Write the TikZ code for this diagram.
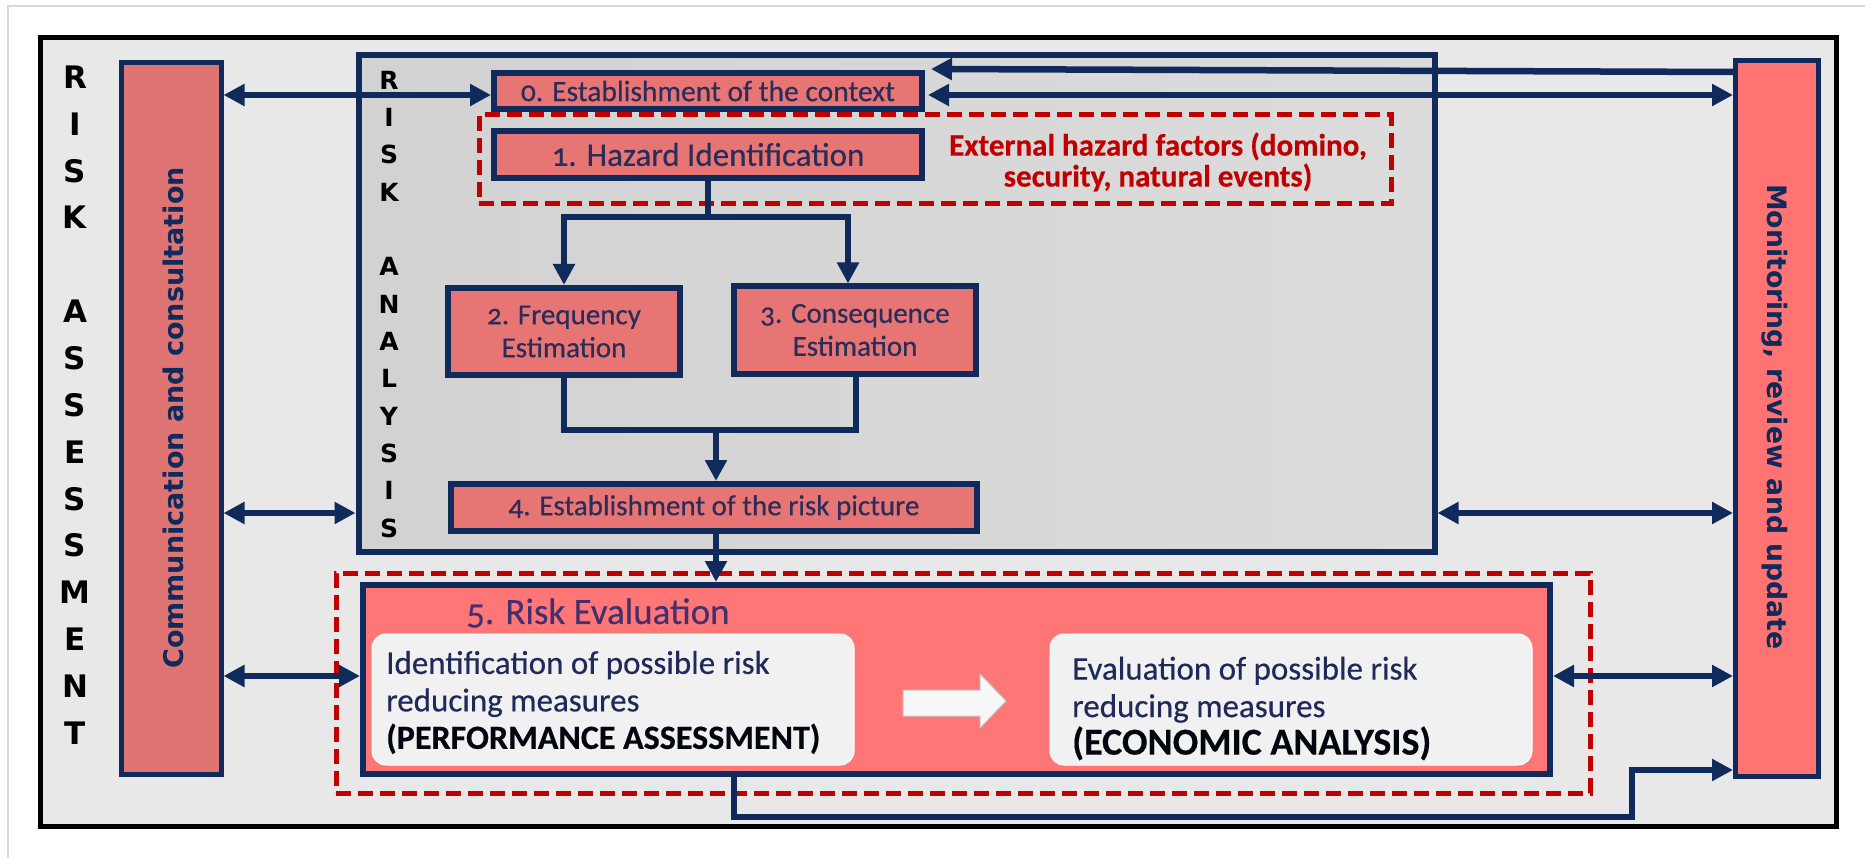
\documentclass[tikz,border=0pt]{standalone}
\usepackage{fontspec}
\setmainfont{Carlito}[Numbers=OldStyle, FakeBold=0.4]
\newfontfamily\dejavu{DejaVu Sans}
\usetikzlibrary{arrows.meta,calc}

\definecolor{navy}{HTML}{102A5C}
\definecolor{boxtext}{HTML}{2A2C5A}
\definecolor{boxfill}{HTML}{E67574}
\definecolor{commfill}{HTML}{DF7472}
\definecolor{monfill}{HTML}{FF7373}
\definecolor{refill}{HTML}{FF7676}
\definecolor{bg}{HTML}{E8E8E8}
\definecolor{raleft}{HTML}{D2D2D2}
\definecolor{raright}{HTML}{DCDCDC}
\definecolor{hazred}{HTML}{C00000}
\definecolor{evaltext}{HTML}{44306E}
\definecolor{wfill}{HTML}{F1F1F1}
\definecolor{wtextc}{HTML}{1F2A5A}
\definecolor{pageline}{HTML}{DADADA}

\newcommand\setfs[2]{\fontsize{#1}{#2}\selectfont}

\begin{document}
\begin{tikzpicture}[x=1pt,y=-1pt,
  box/.style={draw=navy, line width=6pt, fill=boxfill, inner sep=0pt,
    text=boxtext, align=center},
  sidebox/.style={draw=navy, line width=5pt, inner sep=0pt},
  reddash/.style={draw=hazred, line width=5pt, dash pattern=on 15pt off 7pt,
    inner sep=0pt},
  wbox/.style={fill=wfill, draw=white, line width=1pt, rounded corners=14pt,
    inner sep=0pt},
  wtext/.style={inner sep=0pt, align=left, text=wtextc, anchor=west,
    font=\setfs{33}{37.5}},
  asletter/.style={inner sep=0pt, font=\dejavu\bfseries\setfs{31}{31}},
  raletter/.style={inner sep=0pt, font=\dejavu\bfseries\setfs{25}{25}},
  arr/.style={draw=navy, line width=6.5pt},
  tip/.tip={Triangle[length=21pt,width=21pt]}]

\useasboundingbox (0,0) rectangle (1865,858);
\fill[white] (0,0) rectangle (1865,858);
\draw[pageline, line width=2pt] (8,858) -- (8,6) -- (1865,6);

% outer frame
\draw[line width=5pt, fill=bg] (40,38) rectangle (1836,826);

% side columns
\node[sidebox, fill=commfill, minimum width=99.5pt, minimum height=711.5pt]
  (comm) at (171.25,418.75) {};
\node[sidebox, fill=monfill, minimum width=83pt, minimum height=716pt]
  (mon) at (1777,418.5) {};
\node[rotate=90, inner sep=0pt, text=navy, font=\dejavu\bfseries\setfs{27}{27}]
  (commtext) at (173,418) {Communication and consultation};
\node[rotate=-90, inner sep=0pt, text=navy, font=\dejavu\bfseries\setfs{26.7}{27}]
  (montext) at (1775,417) {Monitoring, review and update};

% vertical titles
\foreach \ch/\k in {R/0,I/1,S/2,K/3,A/5,S/6,S/7,E/8,S/9,S/10,M/11,E/12,N/13,T/14}
  \node[asletter] (as-\k) at (75,77+46.86*\k) {\ch};

% risk analysis frame
\node[draw=navy, line width=6pt, left color=raleft, right color=raright,
  minimum width=1076pt, minimum height=496.5pt, inner sep=0pt]
  (ra) at (896.5,303.25) {};
\foreach \ch/\k in {R/0,I/1,S/2,K/3,A/5,N/6,A/7,L/8,Y/9,S/10,I/11,S/12}
  \node[raletter] (ra-\k) at (389,80+37.35*\k) {\ch};

% external factors
\node[reddash, minimum width=912pt, minimum height=89pt] (ext) at (935,159.5) {};
\node[inner sep=0pt, align=center, text=hazred, font=\bfseries\setfs{31}{31}]
  (extlabel) at (1158,162) {External hazard factors (domino,\\security, natural events)};

% analysis steps
\node[box, minimum width=428pt, minimum height=36pt, font=\setfs{29.5}{32}]
  (ctx) at (708,91) {0. Establishment of the context};
\node[box, minimum width=428pt, minimum height=47pt, font=\setfs{33}{36}]
  (haz) at (708,154.5) {1. Hazard Identification};
\node[box, minimum width=232pt, minimum height=87pt, font=\setfs{29}{33}]
  (freq) at (564,331.5) {2. Frequency\\Estimation};
\node[box, minimum width=242pt, minimum height=87pt, font=\setfs{29}{33}]
  (cons) at (855,330) {3. Consequence\\Estimation};
\node[box, minimum width=526pt, minimum height=47pt, font=\setfs{29}{33}]
  (pic) at (714,507.5) {4. Establishment of the risk picture};

% risk evaluation
\node[reddash, minimum width=1254pt, minimum height=220pt] (reframe) at (963,683) {};
\node[box, fill=refill, minimum width=1187pt, minimum height=189pt]
  (re) at (956.5,679.5) {};
\node[inner sep=0pt, anchor=west, text=evaltext, font=\setfs{37}{40}]
  (retitle) at (466,613) {5. Risk Evaluation};
\node[wbox, minimum width=482pt, minimum height=131pt] (idbox) at (613,699.5) {};
\node[wbox, minimum width=482pt, minimum height=131pt] (evbox) at (1291,699.5) {};
\node[wtext] (idtext) at (386,702.5)
  {Identification of possible risk\\reducing measures\\{\setfs{34}{37.5}\bfseries\color{black!85!navy}(PERFORMANCE ASSESSMENT)}};
\node[wtext] (evtext) at (1072,708.5)
  {Evaluation of possible risk\\reducing measures\\{\setfs{38}{37.5}\bfseries\color{black!85!navy}(ECONOMIC ANALYSIS)}};
\filldraw[fill=white!97!black, draw=black!22, line width=1pt]
  (903,690) -- (980,690) -- (980,674) -- (1006,701) -- (980,728)
  -- (980,716) -- (903,716) -- cycle;

% levels of the connectors
\coordinate (ytop) at (0,72);
\coordinate (yctx) at (0,95);
\coordinate (ysplit) at (0,217);
\coordinate (yjoin) at (0,430);
\coordinate (ymid) at (0,513);
\coordinate (yeval) at (0,676);
\coordinate (yfb) at (0,770);
\coordinate (ybot) at (0,817);
\coordinate (xre) at (734,0);
\coordinate (xfb) at (1632,0);

% flow inside the analysis
\draw[arr] (haz.south) -- (haz.south |- ysplit);
\draw[arr,-tip] (haz.south |- ysplit) -| (freq.north);
\draw[arr,-tip] (haz.south |- ysplit) -| ($(cons.north)+(-7,0)$);
\draw[arr] (freq.south) |- ($(cons.south |- yjoin)+(1,0)$) -- ($(cons.south)+(1,0)$);
\draw[arr,-tip] ($(pic.north |- yjoin)+(2,0)$) -- ($(pic.north)+(2,0)$);
\draw[arr,-tip] ($(pic.south)+(2,0)$) -- ($(pic.south |- re.north)+(2,0)$);

% communication and monitoring links
\draw[arr,tip-tip] (comm.east |- yctx) -- (ctx.west |- yctx);
\draw[arr,-tip] (mon.west |- ytop) -- ($(ctx.north east)+(6,-1)$);
\draw[arr,tip-tip] ($(ctx.east |- yctx)+(3,0)$) -- (mon.west |- yctx);
\draw[arr,tip-tip] (comm.east |- ymid) -- (ra.west |- ymid);
\draw[arr,tip-tip] (ra.east |- ymid) -- (mon.west |- ymid);
\draw[arr,tip-tip] (comm.east |- yeval) -- (re.west |- yeval);
\draw[arr,tip-tip] (re.east |- yeval) -- (mon.west |- yeval);
\draw[arr,-tip] (re.south -| xre) |- (xfb |- ybot) |- (mon.west |- yfb);

\end{tikzpicture}
\end{document}
